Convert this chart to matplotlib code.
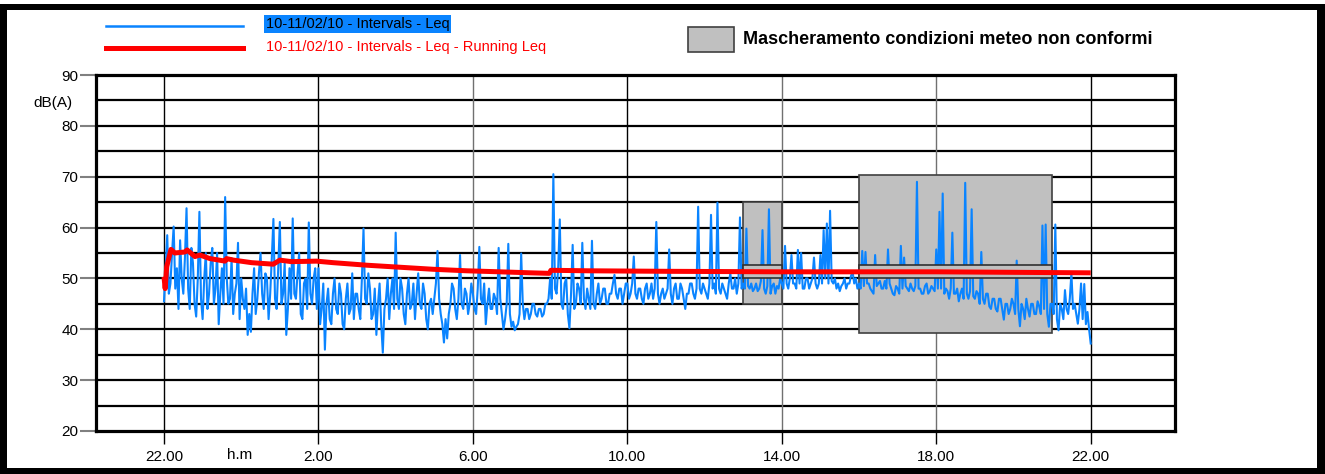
import matplotlib
matplotlib.use("Agg")
import matplotlib.pyplot as plt
from matplotlib.patches import Rectangle
from matplotlib.lines import Line2D
import numpy as np

plt.rcParams['font.family'] = ['Liberation Sans', 'DejaVu Sans']

# ---------------- data ----------------
# blue series: 2.5-minute Leq values, one list per hour, starting 22:00
b22 = [45.5, 52, 58.5, 47, 49, 55, 60.2, 48, 52, 44, 57.5, 50, 47, 54, 63.8, 48, 44, 56, 53, 45, 42.5, 50, 63.1, 46]
b23 = [42, 50, 55, 44, 47, 53, 56, 45, 48, 55, 41, 47, 52, 45, 66, 50, 45, 46, 54, 43, 47, 49, 57, 42]
b00 = [50, 46, 44, 48, 38.9, 43, 39.5, 47, 52, 43, 46, 51, 55, 47, 44, 51, 50, 42, 47, 54, 61.7, 46, 44, 52]
b01 = [61.1, 45, 47, 53, 38.9, 44, 52, 46, 61.8, 47, 46, 51, 55, 43, 42, 49, 50, 44, 61.0, 47, 45, 50, 52, 44]
b02 = [52, 41, 44, 49, 36, 45, 48, 42, 41, 47, 50, 44, 43, 49, 47, 41, 40, 46, 49, 43, 44, 51, 42, 47]
b03 = [47, 44, 42, 50, 59.8, 46, 45, 51, 48, 42, 43, 48, 38.9, 45, 49, 41, 35.4, 44, 46, 50, 42, 47, 50, 44]
b04 = [59, 46, 44, 50, 48, 43, 41, 47, 50, 44, 45, 49, 42, 47, 51, 45, 44, 49, 47, 42, 40, 45, 46, 43]
b05 = [46, 49, 55.4, 46, 43, 41, 37.4, 42, 38.2, 43, 45, 49, 48, 44, 42, 46, 54.6, 45, 44, 48, 47, 43, 45, 49]
b06 = [47, 44, 43, 48, 56.2, 46, 45, 49, 41, 45, 48, 44, 44, 47, 46, 43, 56, 46, 43, 40, 42, 45, 56.8, 43]
b07 = [40.5, 41.5, 39.8, 40.5, 41, 43, 54.9, 45, 42, 44, 44, 42, 43, 45, 45, 43, 42.5, 44, 44, 42.5, 43, 45, 45, 46]
b08 = [50, 46, 70.5, 48, 47, 52, 61.6, 45, 44, 49, 50, 43, 40.2, 47, 56.6, 44, 45, 49, 48, 45, 57, 46, 44, 48]
b09 = [46, 44, 57.4, 45, 44, 47, 49, 45, 46, 48, 48, 45, 45, 47, 47, 49, 50.7, 47, 46, 48, 48, 45, 47, 49]
b10 = [49, 46, 47, 49, 54.3, 47, 46, 48, 48, 46, 45, 48, 49, 46, 47, 49, 46, 48, 61.1, 47, 45, 47, 48, 46]
b11 = [47, 48, 55.7, 47, 45, 48, 49, 46, 46, 49, 48, 46, 44, 47, 47, 49, 49, 47, 46, 48, 64.1, 48, 47, 49]
b12 = [48, 47, 46, 49, 62.5, 48, 49, 47, 64.9, 48, 47, 49, 48, 47, 46, 49, 51, 48, 48, 50, 47, 49, 62, 48]
b13 = [49, 48, 59.8, 48.5, 48, 49, 47.5, 48, 49, 47.5, 48, 49.5, 59.5, 48, 47, 48.5, 63.6, 47, 48.5, 49, 47, 48.5, 48, 50]
b14 = [49, 48, 56.4, 49, 48, 50, 54.6, 49, 49, 48, 55.6, 49, 55, 48, 48, 50, 50, 48, 49, 50, 54.1, 49, 48, 49]
b15 = [54.6, 49, 59.5, 50, 60.8, 49, 63.3, 49.5, 49, 50, 48, 49, 47.5, 48.5, 49, 50, 48, 49, 49, 50.5, 51.3, 49, 50, 48]
b16 = [49, 48, 55.4, 48.5, 55.2, 49, 49, 48, 47.5, 47, 54.6, 48.5, 49, 49.5, 48, 48, 49.5, 48, 55.7, 49, 48, 47, 46.7, 48.5]
b17 = [48, 47, 56.4, 48, 54.1, 48.5, 48, 47.5, 49, 48, 47.5, 48.5, 69.0, 48, 48, 47, 47, 48.5, 49, 47, 47.5, 48.5, 48, 47.5]
b18 = [55.7, 48, 63.1, 48, 66.7, 47, 48, 47.5, 46, 48, 59.0, 47, 47, 48, 45.5, 47, 48, 46, 68.8, 47, 46, 47.5, 63.6, 46.5]
b19 = [46, 47.5, 47, 45, 55.2, 46, 45, 47, 47, 44.5, 44, 46, 46, 44, 43.5, 46, 46, 44, 41.9, 45, 45, 43, 44, 46]
b20 = [45, 43, 53.5, 44, 40.6, 45, 44, 42, 46, 44, 42.5, 45, 45, 43, 43, 45.5, 44.5, 43, 60.4, 44, 60.6, 43, 40.5, 45]
b21 = [45, 43, 60.6, 42, 39.8, 45, 44, 42, 47.7, 44, 43, 46, 51, 44, 45, 43, 41.1, 44, 49, 42, 48.9, 41, 43.4, 40]
b_end = [37.2]
blue_hours = [b22, b23, b00, b01, b02, b03, b04, b05, b06, b07, b08, b09,
              b10, b11, b12, b13, b14, b15, b16, b17, b18, b19, b20, b21, b_end]
blue_start = 22.0      # hours
blue_step_min = 2.5    # minutes between samples

# red series: running Leq (time in hours from midnight of day 1, value dB(A))
red_t = [22.0, 22.03, 22.07, 22.18, 22.28, 22.54, 22.6, 22.8, 22.93, 23.19,
         23.58, 23.62, 23.8, 24.27, 24.83, 25.0, 25.3, 25.95, 26.38, 27.25,
         28.11, 28.97, 29.84, 30.7, 31.5, 31.98, 32.02, 33.0, 35.0, 38.0,
         42.0, 46.0]
red_v = [50.3, 48.0, 52.3, 55.7, 55.0, 55.2, 55.6, 54.3, 54.6, 53.9,
         53.4, 53.9, 53.6, 53.1, 52.8, 53.6, 53.3, 53.4, 53.1, 52.6,
         52.2, 51.8, 51.5, 51.3, 51.1, 51.0, 51.6, 51.5, 51.4, 51.3,
         51.3, 51.1]

# masked (non-compliant weather) periods: start h, end h, low dB, high dB
mask_start = [37.0, 40.0]
mask_end = [38.0, 45.0]
mask_low = [45.0, 39.2]
mask_high = [65.0, 70.3]
band_low = 50.0
band_high = 52.6

xtick_pos = [22, 26, 30, 34, 38, 42, 46]
xtick_lab = ["22.00", "2.00", "6.00", "10.00", "14.00", "18.00", "22.00"]
vgrid_col = ["#000000", "#000000", "#707070", "#000000", "#707070", "#707070", "#000000"]
ytick_pos = [20, 30, 40, 50, 60, 70, 80, 90]

label_blue = "10-11/02/10 - Intervals - Leq"
label_red = "10-11/02/10 - Intervals - Leq - Running Leq"
label_mask = "Mascheramento condizioni meteo non conformi"

# ---------------- figure ----------------
W, H = 1325, 474
fig = plt.figure(figsize=(W / 100, H / 100), dpi=100)

def fx(px):
    return px / W

def fy(py):
    return 1 - py / H

# outer black frame
for (x0, y0, x1, y1) in [(0, 4, 7, 474), (1317, 4, 1325, 474), (0, 4, 1325, 9.5), (0, 468, 1325, 474)]:
    fig.add_artist(Rectangle((fx(x0), fy(y1)), fx(x1) - fx(x0), fy(y0) - fy(y1),
                             transform=fig.transFigure, fc='black', ec='none'))

ax_l, ax_r, ax_t, ax_b = 95.7, 1175, 75, 431
ax = fig.add_axes([fx(ax_l), fy(ax_b), fx(ax_r) - fx(ax_l), fy(ax_t) - fy(ax_b)])
ax.set_xlim(20.231, 48.183)
ax.set_ylim(20, 90)

# grid
for yv in range(25, 90, 5):
    ax.axhline(yv, color='black', lw=1.6, zorder=1)
for xv, c in zip(xtick_pos, vgrid_col):
    ax.axvline(xv, color=c, lw=1.0, zorder=1)

# data
blue = np.concatenate([np.array(b, dtype=float) for b in blue_hours])
t = blue_start + np.arange(len(blue)) * blue_step_min / 60.0

for s, e, lo, hi in zip(mask_start, mask_end, mask_low, mask_high):
    ax.add_patch(Rectangle((s, lo), e - s, hi - lo, fc='#C0C0C0', ec='#404040', lw=1.2, zorder=2))
    ax.add_patch(Rectangle((s, band_low), e - s, band_high - band_low, fc='#C0C0C0', ec='#303030', lw=1.2, zorder=4))

ax.plot(t, blue, color='#0A84FF', lw=1.5, zorder=3)
ax.plot(red_t, red_v, color='#FF0000', lw=3.6, zorder=5, solid_capstyle='butt')

# axes styling
for sp in ax.spines.values():
    sp.set_linewidth(2.3)
    sp.set_color('black')
    sp.set_zorder(6)

ax.set_xticks(xtick_pos)
ax.set_xticklabels(xtick_lab)
ax.set_yticks(ytick_pos)
ax.tick_params(axis='x', length=9, width=1.0, color='black', pad=5, labelsize=11)
ax.tick_params(axis='y', length=11.5, width=1.5, color='#808080', pad=1, labelsize=11)

fig.text(fx(240), fy(455), "h.m", fontsize=11, ha='center', va='center')
fig.text(fx(72), fy(103), "dB(A)", fontsize=11, ha='right', va='center')

# legend
fig.add_artist(Line2D([fx(106), fx(243)], [fy(26), fy(26)], color='#0A84FF', lw=1.8, transform=fig.transFigure))
fig.add_artist(Line2D([fx(106), fx(243)], [fy(48), fy(48)], color='#FF0000', lw=3.6, transform=fig.transFigure))
fig.text(fx(266), fy(24), label_blue, fontsize=10.5, ha='left', va='center', color='black',
         bbox=dict(boxstyle='square,pad=0.12', fc='#0A84FF', ec='none'))
fig.text(fx(266), fy(47), label_red, fontsize=10.5, ha='left', va='center', color='#FF0000')
fig.add_artist(Rectangle((fx(688), fy(51.7)), fx(734) - fx(688), fy(26.7) - fy(51.7),
                         transform=fig.transFigure, fc='#C0C0C0', ec='#404040', lw=1.2))
fig.text(fx(743), fy(39), label_mask, fontsize=13, fontweight='bold', ha='left', va='center')

fig.savefig("out.png", dpi=100)
